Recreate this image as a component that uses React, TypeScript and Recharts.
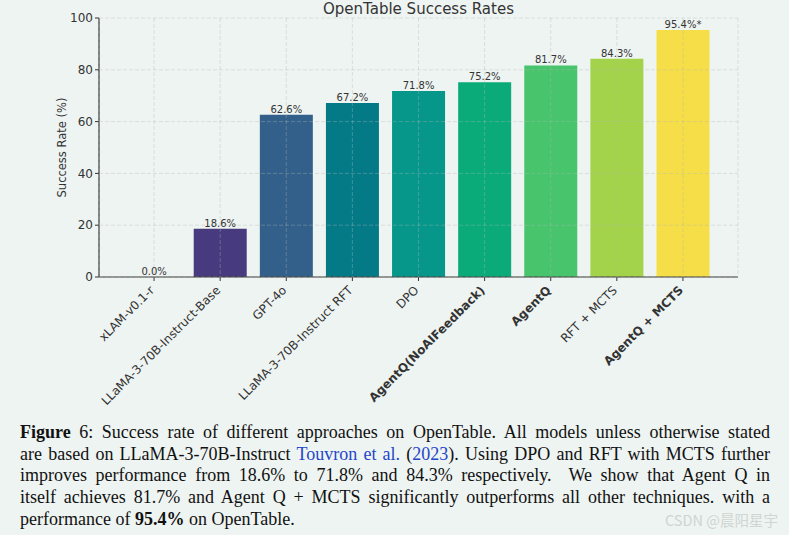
import { BarChart, Bar, XAxis, YAxis, CartesianGrid, Cell, LabelList } from "recharts";

const models = [
  "xLAM-v0.1-r",
  "LLaMA-3-70B-Instruct-Base",
  "GPT-4o",
  "LLaMA-3-70B-Instruct RFT",
  "DPO",
  "AgentQ(NoAIFeedback)",
  "AgentQ",
  "RFT + MCTS",
  "AgentQ + MCTS",
];
const successRates = [0, 18.6, 62.6, 67.2, 71.8, 75.2, 81.7, 84.3, 95.4];
const rateNotes = ["", "", "", "", "", "", "", "", "*"];
const barColors = ["#440154", "#483a7e", "#33608a", "#057a87", "#06968a", "#0aab78", "#48c46c", "#a3d34a", "#f5de48"];
const boldModels = ["AgentQ(NoAIFeedback)", "AgentQ", "AgentQ + MCTS"];
const yTicks = [0, 20, 40, 60, 80, 100];

const BG = "#eef4f1";
const TEXT = "#333";
const FONT = "'DejaVu Sans', sans-serif";

const data = models.map((m, i) => ({
  model: m,
  rate: successRates[i],
  label: `${successRates[i].toFixed(1)}%${rateNotes[i]}`,
}));

function ModelTick(props: any) {
  const { x, y, payload } = props;
  const bold = boldModels.includes(payload.value);
  return (
    <text
      x={x + 1}
      y={y + 8}
      textAnchor="end"
      transform={`rotate(-45, ${x + 1}, ${y + 8})`}
      fontSize={12}
      fontFamily={FONT}
      fontWeight={bold ? 700 : 400}
      fill={TEXT}
    >
      {payload.value}
    </text>
  );
}

function YTitle(props: any) {
  const vb = props.viewBox;
  const cx = vb.x + vb.width - 37;
  const cy = vb.y + vb.height / 2;
  return (
    <text
      x={cx}
      y={cy}
      transform={`rotate(-90, ${cx}, ${cy})`}
      textAnchor="middle"
      dominantBaseline="central"
      fontSize={11.5}
      fontFamily={FONT}
      fill={TEXT}
    >
      Success Rate (%)
    </text>
  );
}

// 0.0% bar has no height, so its label is drawn here from the bar geometry
function RateLabel(props: any) {
  const { x, y, width, value } = props;
  return (
    <text
      x={x + width / 2}
      y={y - 2}
      textAnchor="middle"
      fontSize={10}
      fontFamily={FONT}
      fill={TEXT}
    >
      {value}
    </text>
  );
}

const blue = { color: "#2446c8" };
const captionLines = [
  <>
    <b>Figure</b> 6: Success rate of different approaches on OpenTable. All models unless otherwise stated
  </>,
  <>
    are based on LLaMA-3-70B-Instruct <span style={blue}>Touvron et al.</span> (<span style={blue}>2023</span>). Using DPO
    and RFT with MCTS further
  </>,
  <>improves performance from 18.6% to 71.8% and 84.3% respectively.&nbsp; We show that Agent Q in</>,
  <>itself achieves 81.7% and Agent Q + MCTS significantly outperforms all other techniques. with a</>,
  <>
    performance of <b>95.4%</b> on OpenTable.
  </>,
];

export default function App() {
  return (
    <div
      style={{
        position: "absolute",
        left: 0,
        top: 0,
        width: 789,
        height: 535,
        background: BG,
        overflow: "hidden",
      }}
    >
      <div
        style={{
          position: "absolute",
          left: 99,
          width: 639,
          top: 1.5,
          textAlign: "center",
          fontFamily: FONT,
          fontSize: 15,
          lineHeight: "15px",
          color: TEXT,
        }}
      >
        OpenTable Success Rates
      </div>
      <div style={{ position: "absolute", left: 0, top: 0 }}>
        <BarChart width={789} height={410} data={data} margin={{ top: 18, right: 51, bottom: 0, left: 0 }}>
          <XAxis
            dataKey="model"
            height={133}
            padding={{ left: 22, right: 22 }}
            interval={0}
            tick={<ModelTick />}
            tickSize={4}
            tickMargin={2}
            axisLine={{ stroke: "#333", strokeWidth: 1.2 }}
            tickLine={{ stroke: "#333" }}
          />
          <YAxis
            width={99}
            domain={[0, 100]}
            ticks={yTicks}
            tickSize={4}
            tickMargin={2}
            tick={{ fontSize: 12, fontFamily: FONT, fill: TEXT }}
            axisLine={{ stroke: "#333", strokeWidth: 1.2 }}
            tickLine={{ stroke: "#333" }}
            label={<YTitle />}
          />
          <Bar dataKey="rate" barCategoryGap="10%" minPointSize={0.01} isAnimationActive={false}>
            {data.map((d, i) => (
              <Cell key={d.model} fill={barColors[i]} />
            ))}
            <LabelList dataKey="label" content={<RateLabel />} />
          </Bar>
          <CartesianGrid
            zIndex={1000}
            stroke="#b0b8b4"
            strokeOpacity={0.45}
            strokeDasharray="4 2"
            strokeWidth={0.8}
          />
        </BarChart>
      </div>
      {captionLines.map((line, i) => (
        <div
          key={i}
          style={{
            position: "absolute",
            left: 20,
            width: 750,
            top: 422 + i * 21.7,
            height: 21.7,
            lineHeight: "21.7px",
            fontFamily: "'Liberation Serif', serif",
            fontSize: 18,
            color: "#111",
            whiteSpace: "nowrap",
            textAlign: "justify",
            textAlignLast: i < captionLines.length - 1 ? "justify" : "left",
          }}
        >
          {line}
        </div>
      ))}
      <div
        style={{
          position: "absolute",
          left: 665,
          top: 511,
          fontFamily: "'Noto Sans CJK SC', sans-serif",
          fontSize: 14.5,
          lineHeight: "18px",
          color: "#cfd5d2",
        }}
      >
        CSDN @晨阳星宇
      </div>
    </div>
  );
}
